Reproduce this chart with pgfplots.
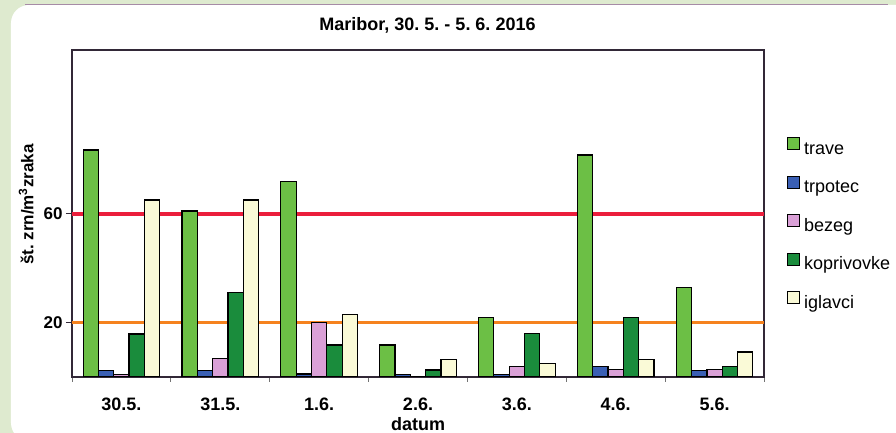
\documentclass[border=0pt]{standalone}
\usepackage{pgfplots}
\usepackage{pgfplotstable}
\pgfplotsset{compat=1.18}
\usetikzlibrary{backgrounds}
\usepackage{fontspec}
\setmainfont{Liberation Sans}
\frenchspacing
\definecolor{bgg}{RGB}{222,234,207}
\definecolor{ctrave}{RGB}{108,191,69}
\definecolor{ctrpotec}{RGB}{58,95,180}
\definecolor{cbezeg}{RGB}{218,160,215}
\definecolor{ckopr}{RGB}{26,140,60}
\definecolor{ciglav}{RGB}{250,250,215}
\definecolor{lred}{RGB}{235,30,60}
\definecolor{lorange}{RGB}{245,130,30}
\definecolor{framec}{RGB}{50,40,55}
\pgfplotstableread{
x trave trpotec bezeg kopr iglavci
0 83.5 2.3 1.0 15.8 65.1
1 61.1 2.3 6.7 31.0 65.1
2 71.9 1.1 20.0 11.8 23.1
3 11.8 1.0 0.0 2.6 6.3
4 21.8 1.0 3.8 15.9 5.0
5 81.7 3.8 2.8 21.8 6.3
6 32.9 2.3 2.8 3.8 9.2
}\datatable
\begin{document}
\begin{tikzpicture}
\begin{axis}[
  scale only axis, width=692pt, height=327pt,
  xmin=-0.5, xmax=6.5, ymin=0, ymax=120.3,
  xtick={0,...,6},
  xticklabels={30.5.,31.5.,1.6.,2.6.,3.6.,4.6.,5.6.},
  minor xtick={-0.5,0.5,1.5,2.5,3.5,4.5,5.5,6.5},
  ytick={20,60},
  tick align=outside, xtick pos=left, ytick pos=left,
  major tick length=6pt, minor tick length=5pt,
  major x tick style={draw=none},
  minor x tick style={draw=black!55, line width=0.8pt},
  major y tick style={draw=framec, line width=1pt},
  axis line style={draw=framec, line width=1.3pt},
  /pgf/number format/assume math mode=true,
  yticklabel style={font=\bfseries\fontsize{17}{17}\selectfont},
  xticklabel style={font=\bfseries\fontsize{18}{18}\selectfont, anchor=base, inner sep=0pt, yshift=-27.5pt},
  xlabel={datum},
  xlabel style={at={(axis description cs:0.5,0)}, anchor=base, inner sep=0pt, yshift=-53.5pt, font=\bfseries\fontsize{18}{18}\selectfont},
  ylabel={št. zrn/m\textsuperscript{3}zraka},
  ylabel style={at={(axis description cs:-0.066,0.527)}, anchor=center, font=\bfseries\fontsize{17}{17}\selectfont},
  legend image code/.code={\draw[#1, draw=black, line width=1pt] (0pt,0pt) rectangle (12pt,12pt);},
  legend cell align=left,
  legend style={draw=none, fill=none, inner sep=0pt, outer sep=0pt,
    at={(1,0.465)}, anchor=west, xshift=23pt,
    row sep=17.5pt, column sep=4pt,
    font=\fontsize{18}{18}\selectfont,
    nodes={inner sep=0pt, text height=13pt, text depth=4pt}},
]
\coordinate (O) at (rel axis cs:0,0);
\addplot[lred, line width=4.5pt, forget plot] coordinates {(-0.5,60) (6.5,60)};
\addplot[lorange, line width=3.5pt, forget plot] coordinates {(-0.5,20) (6.5,20)};
\addplot[ybar, bar width=0.155, bar shift=-0.31, fill=ctrave, draw=black, line width=1.2pt] table[x=x,y=trave]{\datatable};
\addplot[ybar, bar width=0.155, bar shift=-0.155, fill=ctrpotec, draw=black, line width=1.2pt] table[x=x,y=trpotec]{\datatable};
\addplot[ybar, bar width=0.155, bar shift=0, fill=cbezeg, draw=black, line width=1.2pt] table[x=x,y=bezeg]{\datatable};
\addplot[ybar, bar width=0.155, bar shift=0.155, fill=ckopr, draw=black, line width=1.2pt] table[x=x,y=kopr]{\datatable};
\addplot[ybar, bar width=0.155, bar shift=0.31, fill=ciglav, draw=black, line width=1.2pt] table[x=x,y=iglavci]{\datatable};
\legend{trave,trpotec,bezeg,koprivovke,iglavci}
\end{axis}
\pgfresetboundingbox
\begin{scope}[on background layer, shift={(O)}, x=1pt, y=1pt]
\path[use as bounding box] (-72,-56) rectangle (824,377);
\fill[bgg] (-72,-56) rectangle (824,377);
\fill[white, rounded corners=18pt] (-61,-64) rectangle (858,372);
\draw[violet!30!gray!70, line width=1.2pt] (-47,372.4) -- (816,372.4);
\node[font=\bfseries\fontsize{18}{20}\selectfont, anchor=base] at (355.5,346) {Maribor, 30. 5. - 5. 6. 2016};
\end{scope}
\end{tikzpicture}
\end{document}
